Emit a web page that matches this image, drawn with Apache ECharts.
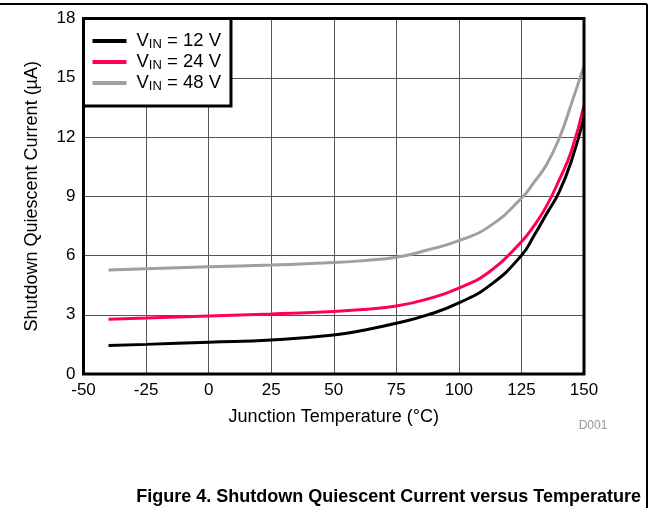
<!DOCTYPE html>
<html><head><meta charset="utf-8">
<script src="https://cdn.jsdelivr.net/npm/echarts@6/dist/echarts.min.js"></script>
<style>html,body{margin:0;padding:0;background:#fff}#c{width:653px;height:508px}</style>
</head><body><div id="c"></div>
<script>
const temps = [-40, -25, 0, 25, 50, 62.5, 75, 87.5, 100, 112.5, 125, 130, 135, 140, 145, 150];
const vin12 = [1.44, 1.50, 1.61, 1.72, 1.97, 2.23, 2.57, 2.99, 3.6, 4.5, 6.0, 7.0, 8.1, 9.2, 10.8, 13.0];
const vin24 = [2.77, 2.83, 2.94, 3.04, 3.16, 3.27, 3.44, 3.8, 4.35, 5.2, 6.7, 7.5, 8.5, 9.8, 11.3, 13.6];
const vin48 = [5.27, 5.33, 5.43, 5.52, 5.64, 5.75, 5.91, 6.28, 6.75, 7.5, 8.9, 9.7, 10.6, 11.9, 13.7, 15.6];
const seriesNames = ['VIN = 12 V', 'VIN = 24 V', 'VIN = 48 V'];
const xTicks = [-50, -25, 0, 25, 50, 75, 100, 125, 150];
const yTicks = [0, 3, 6, 9, 12, 15, 18];

const F = 'Liberation Sans, Arial, sans-serif';
const chart = echarts.init(document.getElementById('c'));
const mk = (name, data, color) => ({
  name, type: 'line', smooth: 0.5, showSymbol: false, symbol: 'none',
  data: temps.map((t, i) => [t, data[i]]),
  lineStyle: { color, width: 3 }, itemStyle: { color }, z: 3
});
chart.setOption({
  animation: false,
  backgroundColor: '#fff',
  grid: { left: 83.5, top: 18.5, right: 69, bottom: 134, show: true, borderColor: '#000', borderWidth: 3, z: 4 },
  xAxis: {
    type: 'value', min: -50, max: 150, interval: 25,
    name: 'Junction Temperature (°C)', nameLocation: 'middle', nameGap: 34,
    nameTextStyle: { fontFamily: F, fontSize: 18, color: '#000' },
    axisLine: { show: false }, axisTick: { show: false },
    axisLabel: { fontFamily: F, fontSize: 17, color: '#000', margin: 8,
      formatter: v => xTicks.includes(v) ? String(v) : '' },
    splitLine: { show: true, lineStyle: { color: '#555', width: 1 } }
  },
  yAxis: {
    type: 'value', min: 0, max: 18, interval: 3,
    name: 'Shutdown Quiescent Current (µA)', nameLocation: 'middle', nameGap: 42,
    nameTextStyle: { fontFamily: F, fontSize: 18, color: '#000' },
    axisLine: { show: false }, axisTick: { show: false },
    axisLabel: { fontFamily: F, fontSize: 17, color: '#000', margin: 8,
      formatter: v => yTicks.includes(v) ? String(v) : '' },
    splitLine: { show: true, lineStyle: { color: '#555', width: 1 } }
  },
  legend: {
    orient: 'vertical', left: 83.5, top: 18.5,
    backgroundColor: '#fff', borderColor: '#000', borderWidth: 3,
    padding: [13, 10, 13, 9], itemGap: 1.5, itemWidth: 34, itemHeight: 4,
    icon: 'rect', z: 10,
    formatter: n => {
      const m = n.match(/^VIN(.*)$/);
      return '{v|V}{s|IN}{v|' + m[1] + '}';
    },
    textStyle: {
      padding: [0, 0, 0, 5],
      rich: {
        v: { fontFamily: F, fontSize: 18.5, color: '#000', lineHeight: 20 },
        s: { fontFamily: F, fontSize: 13, color: '#000', verticalAlign: 'bottom', lineHeight: 20, padding: [6, 0, 0, 0] }
      }
    },
    data: seriesNames
  },
  series: [
    mk(seriesNames[0], vin12, '#000000'),
    mk(seriesNames[1], vin24, '#ff0055'),
    mk(seriesNames[2], vin48, '#a0a0a0')
  ],
  graphic: [
    { type: 'line', shape: { x1: 0, y1: 4, x2: 647, y2: 4 }, style: { stroke: '#000', lineWidth: 2 } },
    { type: 'line', shape: { x1: 647, y1: 4, x2: 647, y2: 508 }, style: { stroke: '#000', lineWidth: 2 } },
    { type: 'text', x: 593, y: 426, style: { text: 'D001', fontFamily: F, fontSize: 12, fill: '#999', align: 'center', verticalAlign: 'middle' } },
    { type: 'text', x: 641, y: 497, style: { text: 'Figure 4. Shutdown Quiescent Current versus Temperature', fontFamily: F, fontSize: 18, fontWeight: 'bold', fill: '#000', align: 'right', verticalAlign: 'middle' } }
  ]
});
</script></body></html>
